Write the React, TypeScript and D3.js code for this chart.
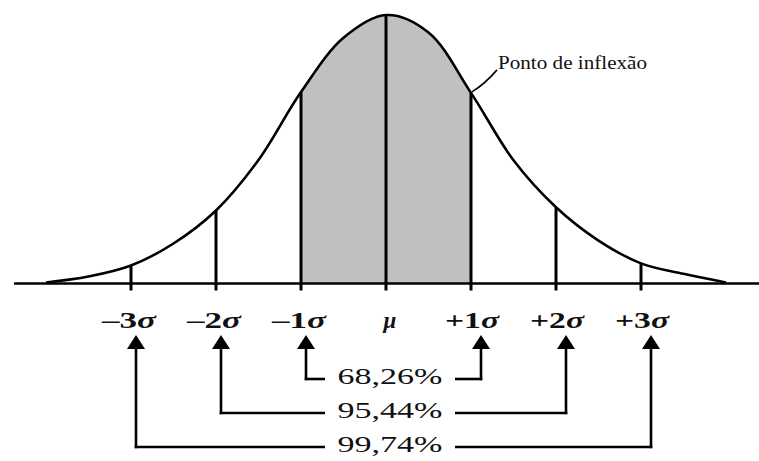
import React from 'react'
import * as d3 from 'd3'

// curve heights (relative to peak), in sigma steps
const curveZ = [-4, -3.5, -3, -2.5, -2, -1.5, -1, -0.5, 0, 0.5, 1, 1.5, 2, 2.5, 3, 3.5, 4]
const curveHeight = [0.004, 0.026, 0.067, 0.149, 0.272, 0.46, 0.713, 0.915, 1, 0.935, 0.71, 0.459, 0.284, 0.16, 0.075, 0.036, 0.004]

const sigmaSteps = [-3, -2, -1, 0, 1, 2, 3]
const sigmaPrefixes = ['–3', '–2', '–1', '', '+1', '+2', '+3']
const sigmaSymbols = ['σ', 'σ', 'σ', 'μ', 'σ', 'σ', 'σ']

const coverageLabels = ['68,26%', '95,44%', '99,74%']
const coverageSpans = [1, 2, 3]

const inflectionLabel = 'Ponto de inflexão'

const W = 759
const H = 461

export default function App() {
  const x = d3.scaleLinear().domain([-3, 3]).range([131, 641])
  const y = d3.scaleLinear().domain([0, 1]).range([283.5, 15])
  const heightAt = (z: number) => curveHeight[curveZ.indexOf(z)]

  const line = d3.line<number>()
    .x((_, i) => x(curveZ[i]))
    .y(d => y(d))
    .curve(d3.curveCatmullRom.alpha(0.5))

  const area = d3.area<number>()
    .x((_, i) => x(curveZ[i]))
    .y0(y(0))
    .y1(d => y(d))
    .curve(d3.curveCatmullRom.alpha(0.5))

  const serif = 'Liberation Serif, DejaVu Serif, serif'
  const labelY = 328
  const arrowTip = 335
  const arrowBase = 349
  const rowY = (i: number) => 379 + i * 34
  const arrowX = (k: number) => x(k) + (k < 0 ? 5 : 10)
  const textLeft = 325
  const textRight = 455
  const textCenter = (textLeft + textRight) / 2

  const ix = x(1)
  const iy = y(heightAt(1))

  return (
    <svg width={W} height={H} style={{ position: 'absolute', left: 0, top: 0, background: '#fff' }}>
      <defs>
        <clipPath id="oneSigma">
          <rect x={x(-1)} y={0} width={x(1) - x(-1)} height={H} />
        </clipPath>
      </defs>

      {/* shaded ±1σ region */}
      <path d={area(curveHeight) || ''} fill="#c0c0c0" clipPath="url(#oneSigma)" />

      {/* baseline */}
      <line x1={14} x2={W} y1={y(0)} y2={y(0)} stroke="#000" strokeWidth={2.5} />

      {/* sigma verticals */}
      {sigmaSteps.map(k => (
        <line key={k} x1={x(k)} x2={x(k)} y1={y(0) + 7} y2={y(heightAt(k))}
          stroke="#000" strokeWidth={3} />
      ))}

      {/* bell curve */}
      <path d={line(curveHeight) || ''} fill="none" stroke="#000" strokeWidth={2.6} strokeLinejoin="round" />

      {/* inflection annotation */}
      <path d={`M${ix + 1},${iy - 1} Q${ix + 14},${iy - 9} ${ix + 26},${iy - 23}`}
        fill="none" stroke="#000" strokeWidth={1.6} />
      <text x={ix + 27} y={iy - 24} style={{ fontFamily: serif }} fontSize={19} fill="#111"
        textLength={149} lengthAdjust="spacingAndGlyphs">{inflectionLabel}</text>

      {/* sigma labels */}
      {sigmaSteps.map((k, i) => (
        <text key={k} x={x(k) + (k < 0 ? -2 : k === 0 ? 4 : 1)} y={labelY} textAnchor="middle"
          style={{ fontFamily: serif }} fontSize={23} fontWeight="bold" fill="#111"
          {...(sigmaPrefixes[i] ? { textLength: 54, lengthAdjust: 'spacingAndGlyphs' } : {})}>
          {sigmaPrefixes[i]}
          <tspan fontStyle="italic">{sigmaSymbols[i]}</tspan>
        </text>
      ))}

      {/* coverage brackets */}
      {coverageSpans.map((k, i) => {
        const ry = rowY(i)
        return (
          <g key={k}>
            {[-k, k].map(s => (
              <g key={s}>
                <path d={`M${arrowX(s)},${arrowTip} L${arrowX(s) - 9},${arrowBase} L${arrowX(s) + 9},${arrowBase} Z`} fill="#000" />
                <line x1={arrowX(s)} x2={arrowX(s)} y1={arrowBase - 1} y2={ry + 1.2} stroke="#000" strokeWidth={2.6} />
              </g>
            ))}
            <line x1={arrowX(-k) - 1.3} x2={textLeft} y1={ry} y2={ry} stroke="#000" strokeWidth={2.6} />
            <line x1={textRight} x2={arrowX(k) + 1.3} y1={ry} y2={ry} stroke="#000" strokeWidth={2.6} />
            <text x={textCenter} y={ry + 5} textAnchor="middle" style={{ fontFamily: serif }} fontSize={23} fill="#111"
              textLength={105} lengthAdjust="spacingAndGlyphs">{coverageLabels[i]}</text>
          </g>
        )
      })}
    </svg>
  )
}
